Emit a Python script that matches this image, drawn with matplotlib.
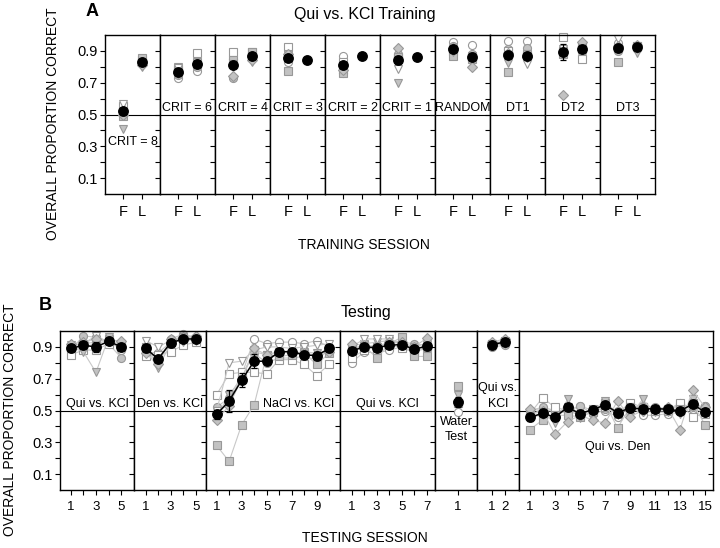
import numpy as np
import matplotlib
matplotlib.use('Agg')
import matplotlib.pyplot as plt

plt.rcParams['font.family'] = ['Liberation Sans', 'DejaVu Sans']

nan = np.nan

# ---------------- Panel A data ----------------
A_labels = ['CRIT = 8', 'CRIT = 6', 'CRIT = 4', 'CRIT = 3', 'CRIT = 2',
            'CRIT = 1', 'RANDOM', 'DT1', 'DT2', 'DT3']
A_xticklabels = ['F', 'L']
A_mean_F = [0.52, 0.77, 0.81, 0.855, 0.81, 0.845, 0.915, 0.875, 0.895, 0.92]
A_mean_L = [0.83, 0.82, 0.865, 0.84, 0.87, 0.86, 0.86, 0.865, 0.915, 0.925]
A_sem_F = [0.02, 0.015, 0.02, 0.02, 0.02, 0.025, 0.015, 0.02, 0.05, 0.015]
A_sem_L = [0.01, 0.015, 0.01, 0.0, 0.0, 0.0, 0.02, 0.015, 0.015, 0.01]

# individual subjects, first (F) and last (L) session of each stage
A_F_open_circle = [0.53, 0.73, 0.85, 0.83, 0.865, 0.86, 0.955, 0.965, 0.92, 0.95]
A_F_gray_circle = [0.52, 0.75, 0.73, 0.86, 0.76, 0.88, 0.93, 0.91, 0.90, 0.90]
A_F_open_square = [0.555, 0.78, 0.89, 0.925, 0.83, 0.85, 0.90, 0.90, 0.985, 0.92]
A_F_gray_square = [0.49, 0.79, 0.84, 0.775, 0.76, 0.86, 0.87, 0.77, 0.88, 0.83]
A_F_gray_tri = [0.41, 0.80, 0.80, 0.88, 0.79, 0.70, 0.89, 0.825, 0.90, 0.91]
A_F_open_tri = [0.565, 0.79, 0.82, 0.87, 0.80, 0.785, 0.91, 0.86, 0.91, 0.975]
A_F_gray_diamond = [0.50, 0.76, 0.74, 0.88, 0.78, 0.92, 0.92, 0.885, 0.62, 0.93]

A_L_open_circle = [0.83, 0.775, 0.86, nan, nan, nan, 0.94, 0.96, 0.93, 0.91]
A_L_gray_circle = [0.84, 0.80, 0.87, nan, nan, nan, 0.88, 0.92, 0.89, 0.92]
A_L_open_square = [0.84, 0.885, 0.89, nan, nan, nan, 0.86, 0.87, 0.85, 0.93]
A_L_gray_square = [0.855, 0.83, 0.89, nan, nan, nan, 0.85, 0.88, 0.94, 0.93]
A_L_gray_tri = [0.80, 0.82, 0.83, nan, nan, nan, 0.87, 0.85, 0.92, 0.885]
A_L_open_tri = [0.82, 0.81, 0.86, nan, nan, nan, 0.86, 0.82, 0.90, 0.91]
A_L_gray_diamond = [0.81, 0.82, 0.84, nan, nan, nan, 0.80, 0.86, 0.955, 0.94]

# ---------------- Panel B data ----------------
B_labels = ['Qui vs. KCl', 'Den vs. KCl', 'NaCl vs. KCl', 'Qui vs. KCl',
            'Water\nTest', 'Qui vs.\nKCl', 'Qui vs. Den']
B_mean = [
    [0.89, 0.91, 0.90, 0.935, 0.90],
    [0.89, 0.825, 0.925, 0.95, 0.95],
    [0.475, 0.56, 0.69, 0.81, 0.81, 0.87, 0.87, 0.85, 0.845, 0.89],
    [0.875, 0.90, 0.895, 0.91, 0.915, 0.885, 0.905],
    [0.555],
    [0.915, 0.93],
    [0.456, 0.483, 0.458, 0.52, 0.48, 0.505, 0.535, 0.487, 0.515, 0.51,
     0.512, 0.508, 0.497, 0.54, 0.49],
]
B_sem = [
    [0.02, 0.02, 0.03, 0.015, 0.02],
    [0.02, 0.02, 0.015, 0.015, 0.01],
    [0.03, 0.07, 0.045, 0.045, 0.02, 0.02, 0.02, 0.02, 0.025, 0.02],
    [0.02, 0.015, 0.015, 0.015, 0.015, 0.015, 0.015],
    [0.03],
    [0.01, 0.01],
    [0.02, 0.02, 0.02, 0.02, 0.02, 0.015, 0.02, 0.02, 0.015, 0.015,
     0.015, 0.015, 0.015, 0.02, 0.02],
]
B_open_circle = [
    [0.88, 0.90, 0.92, 0.94, 0.88],
    [0.87, 0.86, 0.93, 0.97, 0.95],
    [0.48, 0.55, 0.72, 0.95, 0.92, 0.93, 0.93, 0.92, 0.94, 0.90],
    [0.80, 0.87, 0.86, 0.88, 0.90, 0.87, 0.89],
    [0.49],
    [0.91, 0.92],
    [0.47, 0.51, 0.49, 0.49, 0.53, 0.48, 0.50, 0.46, 0.53, 0.47, 0.47, 0.48, 0.55, 0.51, 0.53],
]
B_gray_circle = [
    [0.88, 0.97, 0.96, 0.92, 0.83],
    [0.88, 0.80, 0.95, 0.98, 0.96],
    [0.52, 0.58, 0.72, 0.86, 0.80, 0.83, 0.83, 0.84, 0.82, 0.88],
    [0.88, 0.90, 0.91, 0.92, 0.93, 0.92, 0.91],
    [0.56],
    [0.90, 0.91],
    [0.50, 0.52, 0.50, 0.50, 0.53, 0.50, 0.51, 0.50, 0.52, 0.53, 0.52, 0.51, 0.52, 0.52, 0.53],
]
B_open_square = [
    [0.85, 0.88, 0.88, 0.92, 0.90],
    [0.84, 0.85, 0.87, 0.91, 0.93],
    [0.60, 0.73, 0.74, 0.74, 0.73, 0.82, 0.82, 0.79, 0.72, 0.79],
    [0.83, 0.88, 0.90, 0.92, 0.89, 0.87, 0.90],
    [0.55],
    [0.92, 0.93],
    [0.48, 0.58, 0.52, 0.50, 0.47, 0.51, 0.52, 0.48, 0.55, 0.52, 0.50, 0.50, 0.55, 0.46, 0.48],
]
B_gray_square = [
    [0.90, 0.92, 0.93, 0.95, 0.91],
    [0.90, 0.82, 0.93, 0.96, 0.95],
    [0.28, 0.18, 0.41, 0.535, 0.85, 0.84, 0.85, 0.86, 0.79, 0.86],
    [0.89, 0.91, 0.83, 0.92, 0.96, 0.84, 0.84],
    [0.655],
    [0.92, 0.94],
    [0.38, 0.44, 0.47, 0.47, 0.46, 0.49, 0.55, 0.39, 0.52, 0.52, 0.51, 0.50, 0.51, 0.55, 0.41],
]
B_gray_tri = [
    [0.90, 0.87, 0.74, 0.96, 0.92],
    [0.88, 0.77, 0.92, 0.95, 0.94],
    [0.46, 0.60, 0.70, 0.87, 0.85, 0.87, 0.86, 0.87, 0.86, 0.88],
    [0.87, 0.92, 0.93, 0.94, 0.92, 0.88, 0.91],
    [0.60],
    [0.91, 0.92],
    [0.48, 0.49, 0.42, 0.57, 0.45, 0.50, 0.56, 0.48, 0.46, 0.57, 0.49, 0.49, 0.48, 0.57, 0.50],
]
B_open_tri = [
    [0.91, 0.92, 0.97, 0.93, 0.90],
    [0.94, 0.90, 0.94, 0.93, 0.95],
    [0.50, 0.80, 0.81, 0.88, 0.90, 0.90, 0.89, 0.90, 0.91, 0.92],
    [0.90, 0.95, 0.95, 0.95, 0.92, 0.90, 0.92],
    [0.55],
    [0.92, 0.93],
    [0.46, 0.47, 0.45, 0.52, 0.47, 0.49, 0.53, 0.47, 0.52, 0.49, 0.50, 0.51, 0.49, 0.52, 0.48],
]
B_gray_diamond = [
    [0.92, 0.93, 0.95, 0.94, 0.94],
    [0.86, 0.79, 0.95, 0.96, 0.97],
    [0.44, 0.53, 0.70, 0.89, 0.85, 0.87, 0.86, 0.86, 0.85, 0.87],
    [0.92, 0.91, 0.90, 0.93, 0.93, 0.90, 0.955],
    [0.56],
    [0.93, 0.95],
    [0.51, 0.50, 0.35, 0.43, 0.47, 0.44, 0.42, 0.56, 0.46, 0.50, 0.51, 0.52, 0.38, 0.63, 0.52],
]

# ---------------- styling ----------------
GRAY = '#c2c2c2'
EDGE = '#989898'
SUBJ_STYLE = [('o', 'white', 5.8), ('o', GRAY, 5.8), ('s', 'white', 5.3), ('s', GRAY, 5.3),
              ('v', GRAY, 6.0), ('v', 'white', 6.0), ('D', GRAY, 4.9)]

A_F = [A_F_open_circle, A_F_gray_circle, A_F_open_square, A_F_gray_square,
       A_F_gray_tri, A_F_open_tri, A_F_gray_diamond]
A_L = [A_L_open_circle, A_L_gray_circle, A_L_open_square, A_L_gray_square,
       A_L_gray_tri, A_L_open_tri, A_L_gray_diamond]
B_SUBJ = [B_open_circle, B_gray_circle, B_open_square, B_gray_square,
          B_gray_tri, B_open_tri, B_gray_diamond]

W, H = 720, 548
fig = plt.figure(figsize=(W / 100, H / 100), dpi=100)


def ax_px(x0, x1, ytop, ybot):
    return fig.add_axes([x0 / W, 1 - ybot / H, (x1 - x0) / W, (ybot - ytop) / H])


yt = np.round(np.arange(0.1, 0.95, 0.1), 1)
ytl = ['%.1f' % v if i % 2 == 0 else '' for i, v in enumerate(yt)]


def style_axes(ax, first, last):
    ax.set_ylim(0, 1.0)
    ax.set_yticks(yt)
    if first:
        ax.set_yticklabels(ytl, fontsize=10.5)
    else:
        ax.set_yticklabels([])
    ax.tick_params(axis='both', direction='out', length=3.5, width=0.8, pad=2)
    ax.tick_params(axis='x', pad=4.5)
    for sp in ax.spines.values():
        sp.set_linewidth(1.0)
    ax.axhline(0.5, color='black', lw=0.8, zorder=1)
    if last:
        ax.tick_params(axis='y', right=True)
        for t in ax.yaxis.get_major_ticks():
            t.tick2line.set_marker(0)  # right-side ticks pointing inward
            t.tick2line.set_markersize(3.5)


# ---------------- Panel A ----------------
A_left, A_right, A_top, A_bot = 105, 655, 35, 194
aw = (A_right - A_left) / len(A_labels)
for i, lab in enumerate(A_labels):
    ax = ax_px(A_left + i * aw, A_left + (i + 1) * aw, A_top, A_bot)
    for s, (mk, fc, ms) in enumerate(SUBJ_STYLE):
        ax.plot([1, 2], [A_F[s][i], A_L[s][i]], linestyle='none', marker=mk,
                mfc=fc, mec=EDGE, ms=ms, mew=0.8, clip_on=False, zorder=2)
    ax.errorbar([1, 2], [A_mean_F[i], A_mean_L[i]], yerr=[A_sem_F[i], A_sem_L[i]],
                fmt='o', color='black', ms=6.8, capsize=2.5, elinewidth=0.9,
                capthick=0.9, zorder=4)
    ax.set_xlim(0, 3)
    ax.set_xticks([1, 2])
    ax.set_xticklabels(A_xticklabels, fontsize=10.5)
    style_axes(ax, i == 0, i == len(A_labels) - 1)
    if i == 0:
        ax.text(1.5, 0.33, lab, ha='center', va='center', fontsize=9, zorder=3)
    else:
        ax.text(1.5, 0.503, lab, ha='center', va='bottom', fontsize=9, zorder=3)

# ---------------- Panel B ----------------
B_edges = [60, 134, 206, 340, 435, 477, 519, 713]
B_xlim = [(0.16, 6.0), (0.07, 5.83), (0.15, 10.87), (0.07, 7.67),
          (-0.81, 2.55), (-0.2, 3.16), (0.12, 15.64)]
B_top, B_bot = 331, 490
for g, lab in enumerate(B_labels):
    ax = ax_px(B_edges[g], B_edges[g + 1], B_top, B_bot)
    n = len(B_mean[g])
    x = np.arange(1, n + 1)
    for s, (mk, fc, ms) in enumerate(SUBJ_STYLE):
        ax.plot(x, B_SUBJ[s][g], color='#c8c8c8', lw=0.8, marker=mk, mfc=fc,
                mec=EDGE, ms=ms, mew=0.8, clip_on=False, zorder=2)
    ax.errorbar(x, B_mean[g], yerr=B_sem[g], fmt='-o', color='black', lw=1.1,
                ms=6.8, capsize=2.5, elinewidth=0.9, capthick=0.9, zorder=4)
    ax.set_xlim(*B_xlim[g])
    ax.set_xticks(x)
    if n == 2:
        ax.set_xticklabels(['1', '2'], fontsize=9.5)
    else:
        ax.set_xticklabels([str(v) if v % 2 == 1 else '' for v in x], fontsize=9.5)
    style_axes(ax, g == 0, g == len(B_labels) - 1)
    if g in (0, 1, 3):
        ax.text(np.mean(B_xlim[g]), 0.503, lab, ha='center', va='bottom', fontsize=9, zorder=3)
    elif g == 2:
        ax.text(B_xlim[g][1] - 0.5, 0.503, lab, ha='right', va='bottom', fontsize=9, zorder=3)
    elif g == 4:
        ax.text(np.mean(B_xlim[g]), 0.465, lab, ha='center', va='top', fontsize=9,
                linespacing=1.3, zorder=3)
    elif g == 5:
        ax.text(np.mean(B_xlim[g]), 0.505, lab, ha='center', va='bottom', fontsize=9,
                linespacing=1.4, zorder=3)
    else:
        ax.text(8.0, 0.27, lab, ha='center', va='center', fontsize=9, zorder=3)

# ---------------- figure texts ----------------
fig.text(92 / W, 1 - 12 / H, 'A', fontsize=13, fontweight='bold', ha='center', va='center')
fig.text(365 / W, 1 - 14 / H, 'Qui vs. KCl Training', fontsize=11.5, ha='center', va='center')
fig.text(53 / W, 1 - 124 / H, 'OVERALL PROPORTION CORRECT', fontsize=10, rotation=90,
         ha='center', va='center')
fig.text(364 / W, 1 - 245 / H, 'TRAINING SESSION', fontsize=10, ha='center', va='center')

fig.text(45 / W, 1 - 306 / H, 'B', fontsize=13, fontweight='bold', ha='center', va='center')
fig.text(366 / W, 1 - 313 / H, 'Testing', fontsize=11.5, ha='center', va='center')
fig.text(10 / W, 1 - 420 / H, 'OVERALL PROPORTION CORRECT', fontsize=10, rotation=90,
         ha='center', va='center')
fig.text(365 / W, 1 - 538 / H, 'TESTING SESSION', fontsize=10, ha='center', va='center')

fig.savefig('out.png', dpi=100, facecolor='white')
